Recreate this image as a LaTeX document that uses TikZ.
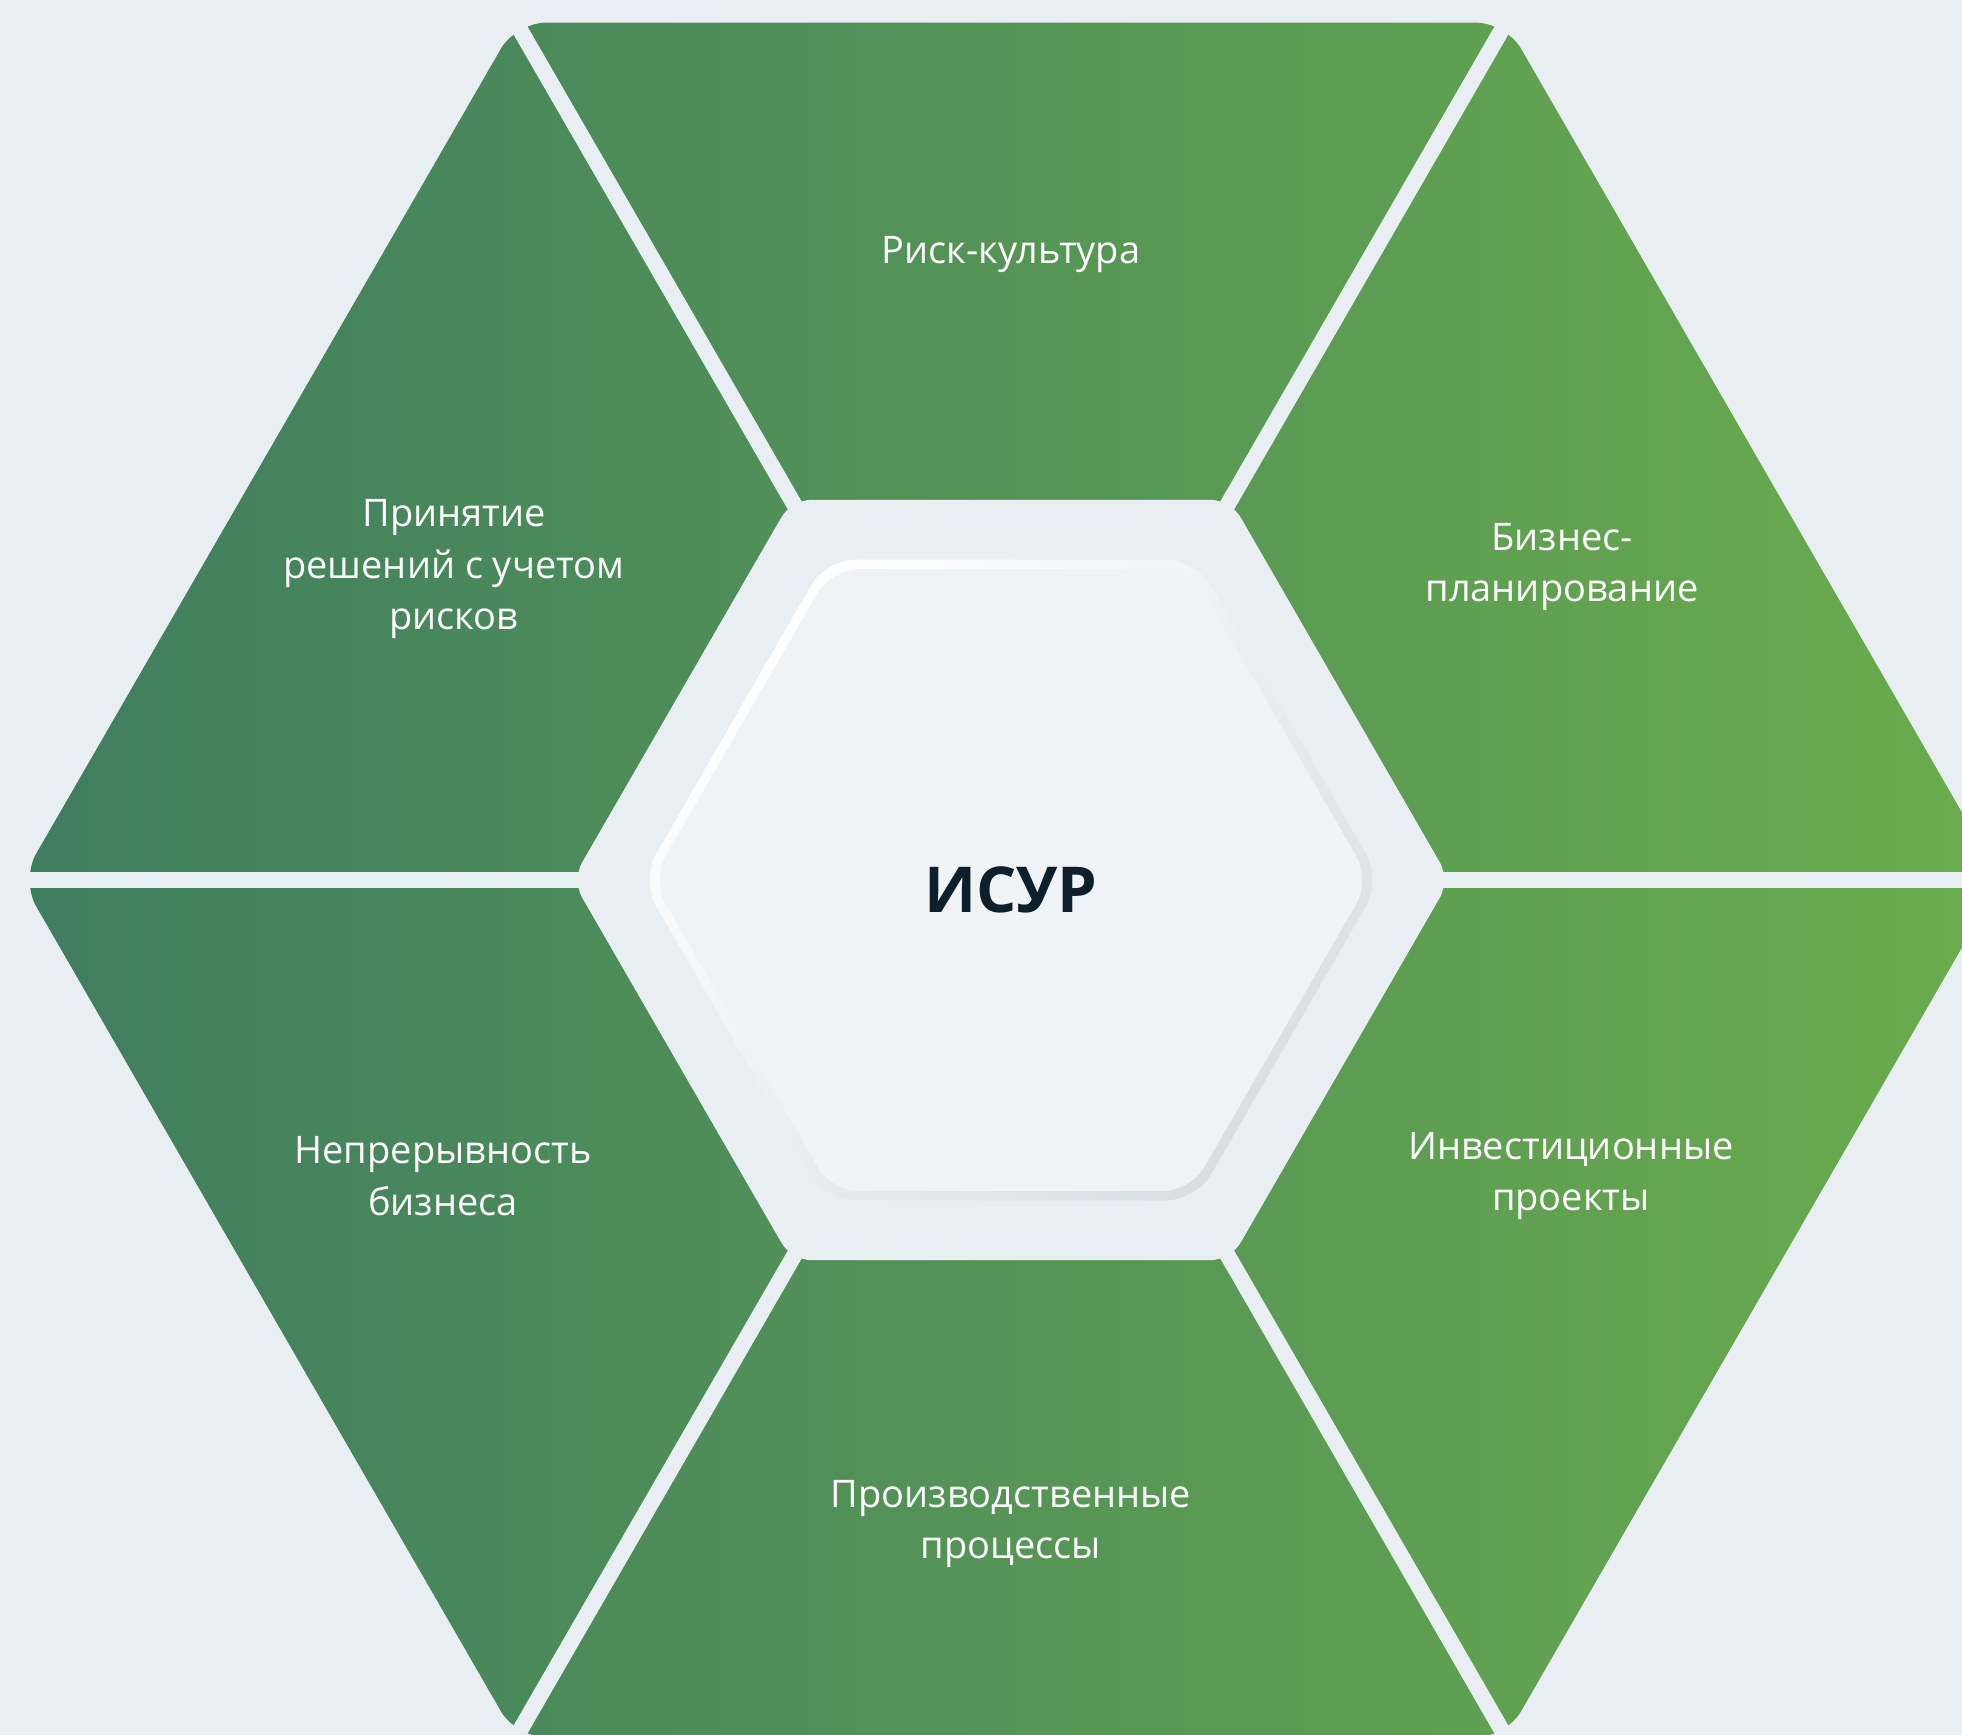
\documentclass[tikz,border=0pt]{standalone}
\usepackage{fontspec}
\setmainfont{Open Sans}
\definecolor{bgcol}{HTML}{E8EEF1}
\definecolor{gleft}{HTML}{3F7D5F}
\definecolor{gright}{HTML}{6BAC4D}
\definecolor{ringgray}{HTML}{D8DFE4}
\definecolor{innerfill}{HTML}{EFF3F5}
\definecolor{navy}{HTML}{0C1F2B}

\begin{document}
\begin{tikzpicture}[x=0.01cm,y=0.01cm,
  lbl/.style={text=white,align=center,font=\fontsize{10.8}{14.6}\selectfont},
  gap/.style={draw=bgcol,line width=0.16cm}]
  \useasboundingbox (-1011,-855) rectangle (951,880);
  \fill[bgcol] (-1011,-855) rectangle (951,880);
  \shade[left color=gleft,right color=gright,rounded corners=0.3cm]
    (0:990) -- (60:990) -- (120:990) -- (180:990) -- (240:990) -- (300:990) -- cycle;
  \foreach \a in {0,60,...,300}
    \draw[gap] (0,0) -- (\a:1150);
  \fill[bgcol,rounded corners=0.2cm]
    (0:439) -- (60:439) -- (120:439) -- (180:439) -- (240:439) -- (300:439) -- cycle;
  \shade[left color=white,right color=ringgray,shading angle=45,rounded corners=0.3cm]
    (0:370) -- (60:370) -- (120:370) -- (180:370) -- (240:370) -- (300:370) -- cycle;
  \fill[innerfill,rounded corners=0.27cm]
    (0:359) -- (60:359) -- (120:359) -- (180:359) -- (240:359) -- (300:359) -- cycle;

  \node[lbl] (risk) at (0,625) {Риск-культура};
  \node[lbl] (decide) at (-557,311) {Принятие\\решений с учетом\\рисков};
  \node[lbl] (plan) at (551,313) {Бизнес-\\планирование};
  \node[lbl] (cont) at (-568,-296) {Непрерывность\\бизнеса};
  \node[lbl] (invest) at (560,-296) {Инвестиционные\\проекты};
  \node[lbl] (prod) at (0,-644) {Производственные\\процессы};
  \node[text=navy,font=\bfseries\fontsize{18}{21}\selectfont] (isur) at (0,-10) {ИСУР};
\end{tikzpicture}
\end{document}
